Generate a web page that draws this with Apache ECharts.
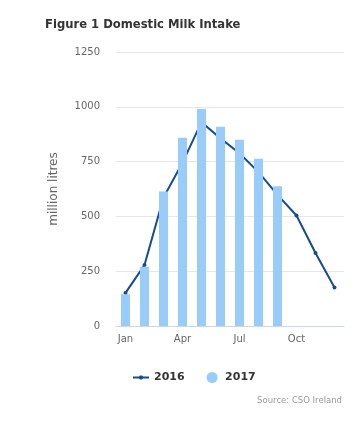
<!DOCTYPE html>
<html>
<head>
<meta charset="utf-8">
<script src="https://cdn.jsdelivr.net/npm/echarts@6/dist/echarts.min.js"></script>
<style>
html,body{margin:0;padding:0;background:#fff;}
#c{width:361px;height:425px;}
</style>
</head>
<body>
<div id="c"></div>
<script>
var months = ['Jan','Feb','Mar','Apr','May','Jun','Jul','Aug','Sep','Oct','Nov','Dec'];
var intake2016 = [151, 278, 586, 745, 930, 856, 788, 702, 598, 504, 333, 176];
var intake2017 = [145, 270, 614, 859, 990, 909, 850, 763, 637, null, null, null];
var yTicks = {min: 0, max: 1250, interval: 250};

var FONT = 'DejaVu Sans';
var chart = echarts.init(document.getElementById('c'), null, {renderer: 'canvas'});
chart.setOption({
  animation: false,
  backgroundColor: '#ffffff',
  textStyle: {fontFamily: FONT},
  title: [
    {text: 'Figure 1 Domestic Milk Intake', left: 40, top: 14,
     textStyle: {fontFamily: FONT, fontSize: 11.6, fontWeight: 'bold', color: '#333333'}},
    {text: 'Source: CSO Ireland', right: 14, top: 391,
     textStyle: {fontFamily: FONT, fontSize: 8.5, fontWeight: 'normal', color: '#999999'}}
  ],
  legend: {
    left: 128, top: 367,
    itemWidth: 16, itemHeight: 11, itemGap: 22, symbolKeepAspect: true,
    textStyle: {fontFamily: FONT, fontSize: 11, fontWeight: 'bold', color: '#333333'},
    data: [
      {name: '2016', icon: 'path://M0,3h16v2h-16z M7,2h2l1,1v2l-1,1h-2l-1,-1v-2z'},
      {name: '2017', icon: 'circle'}
    ]
  },
  grid: {left: 116, right: 17, top: 52, bottom: 99, containLabel: false},
  xAxis: {
    type: 'category', data: months, boundaryGap: true,
    axisLine: {lineStyle: {color: '#ccd6eb'}},
    axisTick: {alignWithLabel: true, interval: 2, length: 8, lineStyle: {color: '#ccd6eb'}},
    axisLabel: {interval: 2, color: '#666666', fontSize: 10, fontFamily: FONT, margin: 8},
    splitLine: {show: false}
  },
  yAxis: {
    type: 'value', min: yTicks.min, max: yTicks.max, interval: yTicks.interval,
    name: 'million litres', nameLocation: 'middle', nameGap: 56,
    nameTextStyle: {color: '#666666', fontSize: 12, fontFamily: FONT},
    axisLine: {show: false}, axisTick: {show: false},
    axisLabel: {color: '#666666', fontSize: 10, fontFamily: FONT, margin: 16,
                formatter: function (v) { return String(v); }},
    splitLine: {lineStyle: {color: '#e6e6e6', width: 1}}
  },
  series: [
    {name: '2016', type: 'line', data: intake2016, z: 2,
     symbol: 'circle', symbolSize: 4, showSymbol: true,
     itemStyle: {color: '#1a4b8c'}, lineStyle: {color: '#1a4b8c', width: 2}},
    {name: '2017', type: 'bar', data: intake2017, z: 3, barWidth: 9,
     itemStyle: {color: '#99ccf8'}}
  ]
});
</script>
</body>
</html>
